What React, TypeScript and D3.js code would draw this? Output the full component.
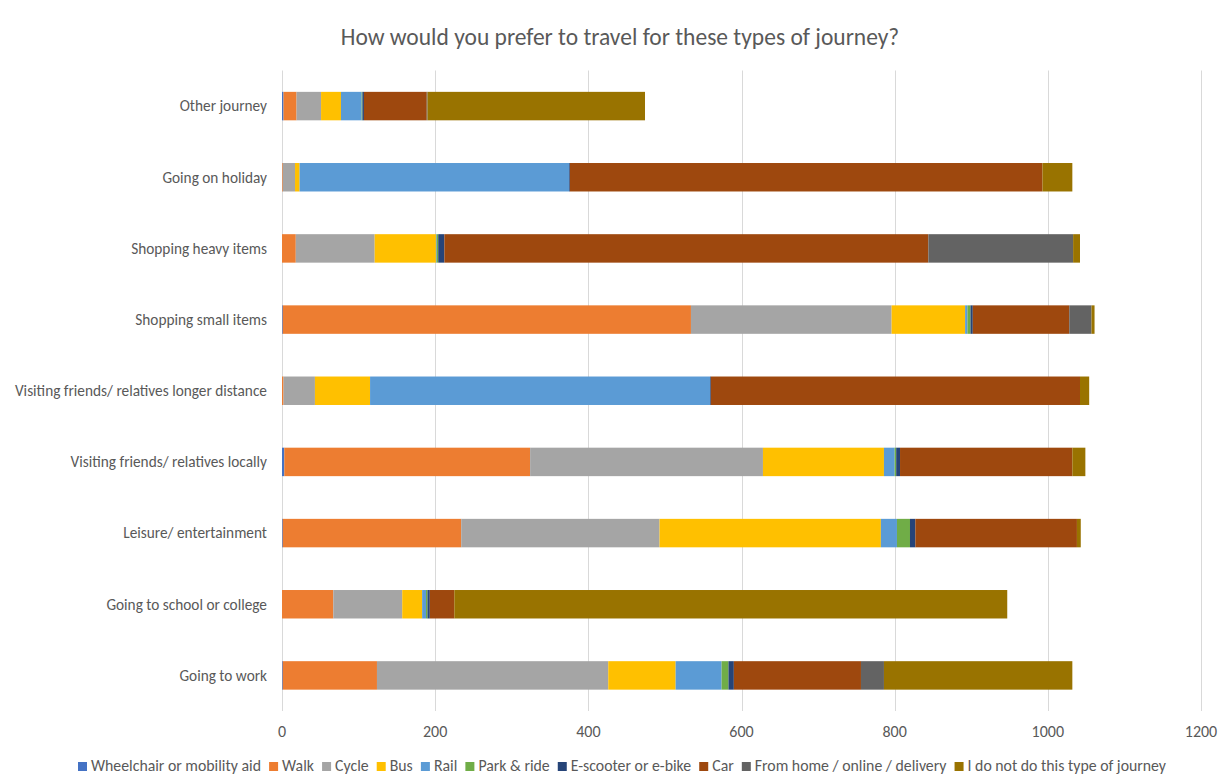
import React, { useEffect, useRef } from "react";
import * as d3 from "d3";

const categories = [
  "Other journey",
  "Going on holiday",
  "Shopping heavy items",
  "Shopping small items",
  "Visiting friends/ relatives longer distance",
  "Visiting friends/ relatives locally",
  "Leisure/ entertainment",
  "Going to school or college",
  "Going to work",
];

const seriesNames = [
  "Wheelchair or mobility aid",
  "Walk",
  "Cycle",
  "Bus",
  "Rail",
  "Park & ride",
  "E-scooter or e-bike",
  "Car",
  "From home / online / delivery",
  "I do not do this type of journey",
];

const wheelchair = [2, 0, 0, 1, 0, 3, 1, 0, 1];
const walk = [17, 1, 18, 533, 2, 321, 233, 67, 123];
const cycle = [32, 16, 103, 262, 41, 304, 259, 90, 302];
const bus = [26, 6, 80, 96, 72, 158, 289, 26, 88];
const rail = [27, 352, 1, 3, 444, 14, 21, 5, 60];
const parkRide = [1, 0, 2, 4, 0, 2, 17, 2, 9];
const eScooter = [2, 1, 8, 3, 1, 5, 7, 3, 7];
const car = [82, 617, 632, 126, 482, 225, 211, 32, 166];
const fromHome = [1, 0, 189, 29, 0, 0, 0, 0, 30];
const notDo = [284, 39, 9, 4, 12, 17, 5, 722, 246];

const seriesValues = [wheelchair, walk, cycle, bus, rail, parkRide, eScooter, car, fromHome, notDo];

const colors = [
  "#4472C4",
  "#ED7D31",
  "#A5A5A5",
  "#FFC000",
  "#5B9BD5",
  "#70AD47",
  "#264478",
  "#9E480E",
  "#636363",
  "#997300",
];

const xTicks = [0, 200, 400, 600, 800, 1000, 1200];

const W = 1231;
const H = 783;
const FONT = "Calibri, Carlito, 'Liberation Sans', Arial, sans-serif";

export default function App() {
  const ref = useRef<SVGSVGElement | null>(null);

  useEffect(() => {
    const svg = d3.select(ref.current);
    svg.selectAll("*").remove();

    const margin = { left: 282, right: 30, top: 70.5, bottom: 72 };
    const x = d3.scaleLinear().domain([0, 1200]).range([margin.left, W - margin.right]);
    const y = d3
      .scaleBand<string>()
      .domain(categories)
      .range([margin.top, H - margin.bottom])
      .paddingInner(0.6)
      .paddingOuter(0.3);

    svg
      .append("rect")
      .attr("x", 0.5)
      .attr("y", 0.5)
      .attr("width", W - 1)
      .attr("height", H - 1)
      .attr("fill", "#fff")
      .attr("stroke", "#d9d9d9");

    svg
      .append("text")
      .attr("x", 620)
      .attr("y", 45)
      .attr("text-anchor", "middle")
      .attr("font-family", FONT)
      .attr("font-size", 23.5)
      .attr("fill", "#595959")
      .text("How would you prefer to travel for these types of journey?");

    // grid
    svg
      .append("g")
      .selectAll("line")
      .data(xTicks)
      .join("line")
      .attr("x1", (d) => Math.round(x(d)) + 0.5)
      .attr("x2", (d) => Math.round(x(d)) + 0.5)
      .attr("y1", margin.top)
      .attr("y2", H - margin.bottom)
      .attr("stroke", "#d9d9d9")
      .attr("stroke-width", 1);

    // tick labels
    svg
      .append("g")
      .selectAll("text")
      .data(xTicks)
      .join("text")
      .attr("x", (d) => x(d))
      .attr("y", 737)
      .attr("text-anchor", "middle")
      .attr("font-family", FONT)
      .attr("font-size", 16)
      .attr("fill", "#595959")
      .text((d) => String(d));

    // stacked bars
    const rows = categories.map((c, i) => {
      const o: any = { cat: c };
      seriesNames.forEach((s, k) => (o[s] = seriesValues[k][i]));
      return o;
    });
    const stacked = d3.stack<any>().keys(seriesNames)(rows);

    svg
      .append("g")
      .selectAll("g")
      .data(stacked)
      .join("g")
      .attr("fill", (_d, i) => colors[i])
      .selectAll("rect")
      .data((d) => d)
      .join("rect")
      .attr("x", (d) => x(d[0]))
      .attr("width", (d) => Math.max(0, x(d[1]) - x(d[0])))
      .attr("y", (d) => y(d.data.cat)!)
      .attr("height", y.bandwidth());

    // category labels
    svg
      .append("g")
      .selectAll("text")
      .data(categories)
      .join("text")
      .attr("x", 267)
      .attr("y", (d) => y(d)! + y.bandwidth() / 2)
      .attr("dy", "0.35em")
      .attr("text-anchor", "end")
      .attr("font-family", FONT)
      .attr("font-size", 15.3)
      .attr("fill", "#595959")
      .text((d) => d);

    // legend
    const lg = svg.append("g");
    const items = seriesNames.map((name, i) => {
      const g = lg.append("g");
      g.append("rect").attr("x", 0).attr("y", -9).attr("width", 9).attr("height", 9).attr("fill", colors[i]);
      const t = g
        .append("text")
        .attr("x", 13)
        .attr("y", 0)
        .attr("font-family", FONT)
        .attr("font-size", 15.8)
        .attr("fill", "#595959")
        .text(name);
      const w = (t.node() as SVGTextElement).getComputedTextLength();
      return { g, w: 13 + w };
    });
    const startX = 78;
    const endX = 1166;
    const sumW = items.reduce((a, b) => a + b.w, 0);
    const gap = Math.max(8, (endX - startX - sumW) / (items.length - 1));
    let cx = startX;
    items.forEach((it) => {
      it.g.attr("transform", `translate(${cx},771)`);
      cx += it.w + gap;
    });
  }, []);

  return (
    <svg ref={ref} width={W} height={H} style={{ display: "block", margin: "-8px" }} />
  );
}
